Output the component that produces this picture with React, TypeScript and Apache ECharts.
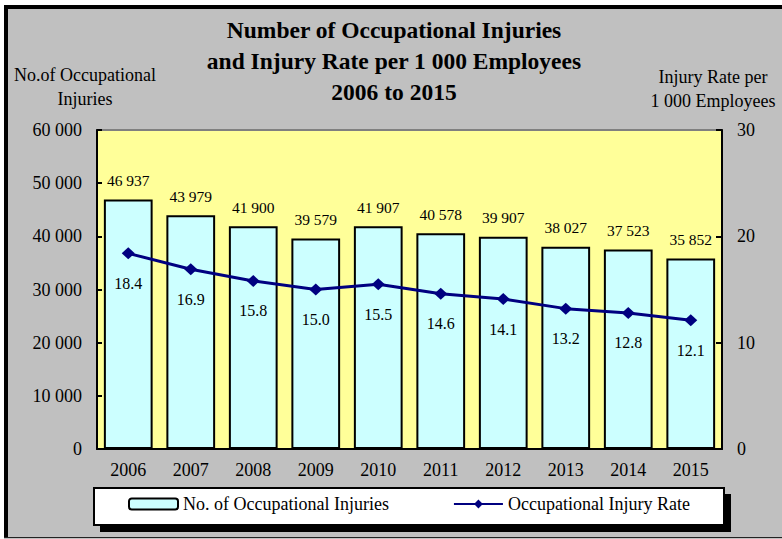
import React, { useEffect, useRef } from "react";
import * as echarts from "echarts";

const categories = ["2006", "2007", "2008", "2009", "2010", "2011", "2012", "2013", "2014", "2015"];
const injuries = [46937, 43979, 41900, 39579, 41907, 40578, 39907, 38027, 37523, 35852];
const rates = [18.4, 16.9, 15.8, 15.0, 15.5, 14.6, 14.1, 13.2, 12.8, 12.1];
const titleLines = ["Number of Occupational Injuries", "and Injury Rate per 1 000 Employees", "2006 to 2015"];
const leftAxisName = ["No.of Occupational", "Injuries"];
const rightAxisName = ["Injury Rate per", "1 000 Employees"];
const seriesNames = ["No. of Occupational Injuries", "Occupational Injury Rate"];

const FONT = "Liberation Serif, Times New Roman, serif";

function fmt(n: number): string {
  return String(n).replace(/\B(?=(\d{3})+(?!\d))/g, " ");
}

export default function App() {
  const ref = useRef<HTMLDivElement>(null);
  useEffect(() => {
    if (!ref.current) return;
    const chart = echarts.init(ref.current, undefined, { renderer: "svg" });
    const option: any = {
      animation: false,
      backgroundColor: "#C0C0C0",
      textStyle: { fontFamily: FONT, color: "#000" },
      grid: {
        left: 97,
        right: 60,
        top: 130,
        bottom: 90,
        show: true,
        backgroundColor: "#FFFF99",
        borderColor: "#808080",
        borderWidth: 2,
      },
      graphic: [
        { type: "rect", z: 0, silent: true, shape: { x: 0, y: 0, width: 782, height: 5 }, style: { fill: "#FFFFFF" } },
        { type: "rect", z: 0, silent: true, shape: { x: 0, y: 0, width: 4, height: 539 }, style: { fill: "#FFFFFF" } },
        { type: "rect", z: 0, silent: true, shape: { x: 4, y: 5, width: 778, height: 4 }, style: { fill: "#000000" } },
        { type: "rect", z: 0, silent: true, shape: { x: 4, y: 5, width: 4, height: 533 }, style: { fill: "#000000" } },
        { type: "rect", z: 0, silent: true, shape: { x: 4, y: 537, width: 778, height: 1 }, style: { fill: "#222222" } },
        { type: "rect", z: 1, silent: true, shape: { x: 100, y: 494, width: 631, height: 38 }, style: { fill: "#000000" } },
        { type: "rect", z: 2, silent: true, shape: { x: 94, y: 488, width: 630, height: 37 }, style: { fill: "#FFFFFF", stroke: "#000000", lineWidth: 2 } },
        {
          type: "text", z: 5, silent: true, x: 394, y: 61,
          style: {
            text: titleLines.join("\n"), align: "center", verticalAlign: "middle",
            fontFamily: FONT, fontWeight: "bold", fontSize: 23.5, lineHeight: 31, fill: "#000",
          },
        },
        {
          type: "text", z: 5, silent: true, x: 85, y: 87,
          style: {
            text: leftAxisName.join("\n"), align: "center", verticalAlign: "middle",
            fontFamily: FONT, fontSize: 18, lineHeight: 24, fill: "#000",
          },
        },
        {
          type: "text", z: 5, silent: true, x: 713, y: 89,
          style: {
            text: rightAxisName.join("\n"), align: "center", verticalAlign: "middle",
            fontFamily: FONT, fontSize: 18, lineHeight: 24, fill: "#000",
          },
        },
      ],
      legend: {
        left: 128,
        top: 495,
        padding: 0,
        itemGap: 64,
        itemWidth: 49,
        itemHeight: 11,
        textStyle: { fontFamily: FONT, fontSize: 18, color: "#000" },
        data: seriesNames,
      },
      xAxis: {
        type: "category",
        data: categories,
        axisLine: { lineStyle: { color: "#000", width: 2 } },
        axisTick: { inside: true, length: 7, lineStyle: { color: "#000", width: 2 } },
        axisLabel: { margin: 12, fontSize: 18, color: "#000", fontFamily: FONT },
        splitLine: { show: false },
      },
      yAxis: [
        {
          type: "value",
          min: 0,
          max: 60000,
          interval: 10000,
          axisLine: { show: true, lineStyle: { color: "#000", width: 2 } },
          axisTick: { show: true, inside: true, length: 5, lineStyle: { color: "#000", width: 2 } },
          axisLabel: { margin: 15, fontSize: 18, color: "#000", fontFamily: FONT, formatter: (v: number) => fmt(v) },
          splitLine: { show: false },
        },
        {
          type: "value",
          min: 0,
          max: 30,
          interval: 10,
          position: "right",
          axisLine: { show: true, lineStyle: { color: "#000", width: 2 } },
          axisTick: { show: true, inside: true, length: 6, lineStyle: { color: "#000", width: 2 } },
          axisLabel: { margin: 15, fontSize: 18, color: "#000", fontFamily: FONT },
          splitLine: { show: false },
        },
      ],
      series: [
        {
          name: seriesNames[0],
          type: "bar",
          data: injuries,
          barWidth: "78%",
          itemStyle: { color: "#CCFFFF", borderColor: "#000", borderWidth: 2 },
          label: {
            show: true,
            position: "top",
            distance: 11,
            fontSize: 15.5,
            color: "#000",
            fontFamily: FONT,
            formatter: (p: any) => fmt(p.value),
          },
          z: 2,
        },
        {
          name: seriesNames[1],
          type: "line",
          yAxisIndex: 1,
          data: rates,
          symbol: "diamond",
          symbolSize: [13, 12],
          lineStyle: { color: "#000080", width: 3 },
          itemStyle: { color: "#000080" },
          label: {
            show: true,
            position: "bottom",
            distance: 16,
            fontSize: 16,
            color: "#000",
            fontFamily: FONT,
            formatter: (p: any) => p.value.toFixed(1),
          },
          z: 3,
        },
      ],
    };
    chart.setOption(option);
    return () => chart.dispose();
  }, []);
  return (
    <div
      ref={ref}
      style={{ position: "fixed", left: 0, top: 0, width: 782, height: 539, background: "#fff" }}
    />
  );
}
